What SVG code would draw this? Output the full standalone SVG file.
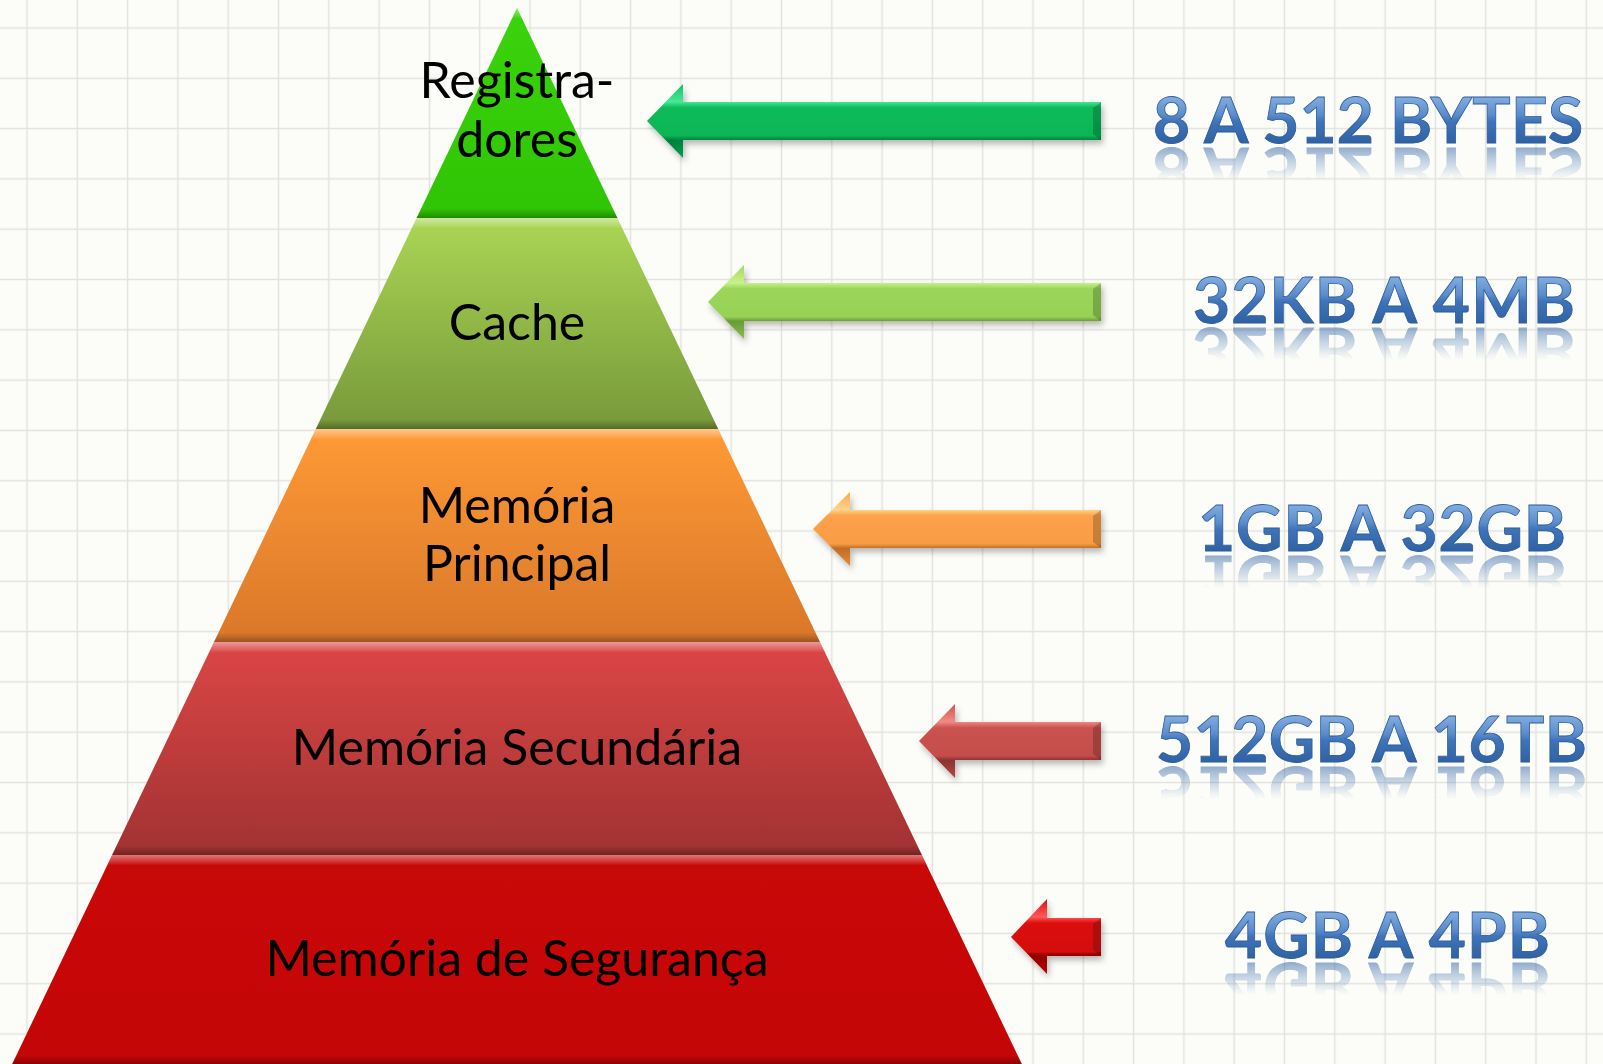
<svg xmlns="http://www.w3.org/2000/svg" xmlns:xlink="http://www.w3.org/1999/xlink" width="1603" height="1064" viewBox="0 0 1603 1064">
<style>
.lvl{font-family:Lato,"Open Sans","Liberation Sans",sans-serif;font-size:50px;fill:#000;text-anchor:middle}
.size{font-family:Lato,"Open Sans","Liberation Sans",sans-serif;font-weight:700;font-size:64px;fill:url(#blueG);stroke:#2d5d9a;stroke-width:0.8}
.bevel{fill:url(#bevelG)}
</style>
<defs>
<pattern id="grid" x="1.85" y="2.85" width="50.3" height="50.3" patternUnits="userSpaceOnUse">
<path d="M25.15 0V50.3M0 25.15H50.3" stroke="#e2e2de" stroke-width="1.5" fill="none"/>
</pattern>
<linearGradient id="g1" x1="0" y1="0" x2="0" y2="1"><stop offset="0" stop-color="#3ad40c"/><stop offset="1" stop-color="#2fc404"/></linearGradient>
<linearGradient id="g2" x1="0" y1="0" x2="0" y2="1"><stop offset="0" stop-color="#aad654"/><stop offset="1" stop-color="#77983a"/></linearGradient>
<linearGradient id="g3" x1="0" y1="0" x2="0" y2="1"><stop offset="0" stop-color="#ff9a35"/><stop offset="1" stop-color="#d9772a"/></linearGradient>
<linearGradient id="g4" x1="0" y1="0" x2="0" y2="1"><stop offset="0" stop-color="#dc4646"/><stop offset="1" stop-color="#a13232"/></linearGradient>
<linearGradient id="g5" x1="0" y1="0" x2="0" y2="1"><stop offset="0" stop-color="#c90808"/><stop offset="1" stop-color="#c50606"/></linearGradient>
<linearGradient id="bevelG" x1="0" y1="0" x2="0" y2="1">
<stop offset="0" stop-color="#fff" stop-opacity="0.45"/>
<stop offset="0.035" stop-color="#fff" stop-opacity="0.15"/>
<stop offset="0.05" stop-color="#fff" stop-opacity="0"/>
<stop offset="0.955" stop-color="#000" stop-opacity="0"/>
<stop offset="0.975" stop-color="#000" stop-opacity="0.12"/>
<stop offset="1" stop-color="#000" stop-opacity="0.3"/>
</linearGradient>
<linearGradient id="blueG" gradientUnits="userSpaceOnUse" x1="0" y1="-48" x2="0" y2="0">
<stop offset="0" stop-color="#86b0e2"/><stop offset="0.42" stop-color="#5a8bcb"/><stop offset="0.55" stop-color="#3f74b9"/><stop offset="1" stop-color="#2f62a4"/>
</linearGradient>
<linearGradient id="reflG" gradientUnits="userSpaceOnUse" x1="0" y1="0" x2="0" y2="-32">
<stop offset="0" stop-color="#fff" stop-opacity="0.5"/><stop offset="1" stop-color="#fff" stop-opacity="0"/>
</linearGradient>
<mask id="reflMask" maskUnits="userSpaceOnUse" x="0" y="-120" width="1603" height="240">
<rect x="1000" y="-60" width="603" height="70" fill="url(#reflG)"/>
</mask>
<linearGradient id="a1" x1="0" y1="0" x2="0" y2="1"><stop offset="0" stop-color="#10c060"/><stop offset="0.24" stop-color="#48e896"/><stop offset="0.32" stop-color="#0abb5a"/><stop offset="0.7" stop-color="#07b555"/><stop offset="0.76" stop-color="#05803e"/><stop offset="1" stop-color="#06a04c"/></linearGradient>
<linearGradient id="a2" x1="0" y1="0" x2="0" y2="1"><stop offset="0" stop-color="#9fd85e"/><stop offset="0.24" stop-color="#c9f288"/><stop offset="0.32" stop-color="#9bd65a"/><stop offset="0.7" stop-color="#96d256"/><stop offset="0.76" stop-color="#6a9a38"/><stop offset="1" stop-color="#88c04c"/></linearGradient>
<linearGradient id="a3" x1="0" y1="0" x2="0" y2="1"><stop offset="0" stop-color="#fda44e"/><stop offset="0.24" stop-color="#ffd48a"/><stop offset="0.32" stop-color="#fca24a"/><stop offset="0.7" stop-color="#f99c44"/><stop offset="0.76" stop-color="#c06c24"/><stop offset="1" stop-color="#e88a38"/></linearGradient>
<linearGradient id="a4" x1="0" y1="0" x2="0" y2="1"><stop offset="0" stop-color="#cc5450"/><stop offset="0.24" stop-color="#f08a86"/><stop offset="0.32" stop-color="#cb524f"/><stop offset="0.7" stop-color="#c44e4b"/><stop offset="0.76" stop-color="#8a3230"/><stop offset="1" stop-color="#b44644"/></linearGradient>
<linearGradient id="a5" x1="0" y1="0" x2="0" y2="1"><stop offset="0" stop-color="#e01010"/><stop offset="0.24" stop-color="#ff5a5a"/><stop offset="0.32" stop-color="#dc0c0c"/><stop offset="0.7" stop-color="#d40a0a"/><stop offset="0.76" stop-color="#8e0000"/><stop offset="1" stop-color="#c00606"/></linearGradient>
<filter id="shadow" x="-10%" y="-30%" width="120%" height="170%">
<feDropShadow dx="2" dy="4" stdDeviation="3" flood-color="#000" flood-opacity="0.28"/>
</filter>
</defs>

<rect width="1603" height="1064" fill="#fcfcf8"/>
<rect width="1603" height="1064" fill="url(#grid)"/>

<g id="level-registradores">
<polygon points="517,8 617.4,218 416.6,218" fill="url(#g1)"/>
<polygon class="bevel" points="517,8 617.4,218 416.6,218"/>
<text class="lvl" x="517" y="98">Registra-</text>
<text class="lvl" x="517" y="157">dores</text>
</g>
<g id="level-cache">
<polygon points="416.6,218 617.4,218 718.2,429 315.8,429" fill="url(#g2)"/>
<polygon class="bevel" points="416.6,218 617.4,218 718.2,429 315.8,429"/>
<text class="lvl" x="517" y="340">Cache</text>
</g>
<g id="level-principal">
<polygon points="315.8,429 718.2,429 820,642 214,642" fill="url(#g3)"/>
<polygon class="bevel" points="315.8,429 718.2,429 820,642 214,642"/>
<text class="lvl" x="517" y="523">Memória</text>
<text class="lvl" x="517" y="581">Principal</text>
</g>
<g id="level-secundaria">
<polygon points="214,642 820,642 921.9,855 112.1,855" fill="url(#g4)"/>
<polygon class="bevel" points="214,642 820,642 921.9,855 112.1,855"/>
<text class="lvl" x="517" y="765">Memória Secundária</text>
</g>
<g id="level-seguranca">
<polygon points="112.1,855 921.9,855 1021.8,1064 12.2,1064" fill="url(#g5)"/>
<polygon class="bevel" points="112.1,855 921.9,855 1021.8,1064 12.2,1064"/>
<text class="lvl" x="517" y="976">Memória de Segurança</text>
</g>

<g id="connectors" filter="url(#shadow)">
<polygon points="647,121 683,84 683,102 1101,102 1101,140 683,140 683,158" fill="url(#a1)"/>
<polygon points="1093,108 1101,102 1101,140 1093,134" fill="#000" opacity="0.2"/>
<polygon points="708,302 744,265 744,283 1101,283 1101,321 744,321 744,339" fill="url(#a2)"/>
<polygon points="1093,289 1101,283 1101,321 1093,315" fill="#000" opacity="0.2"/>
<polygon points="813,529 850,492 850,510 1101,510 1101,548 850,548 850,566" fill="url(#a3)"/>
<polygon points="1093,516 1101,510 1101,548 1093,542" fill="#000" opacity="0.2"/>
<polygon points="919,741 955,704 955,722 1101,722 1101,760 955,760 955,778" fill="url(#a4)"/>
<polygon points="1093,728 1101,722 1101,760 1093,754" fill="#000" opacity="0.2"/>
<polygon points="1011,937 1047,899 1047,918 1101,918 1101,956 1047,956 1047,974" fill="url(#a5)"/>
<polygon points="1093,924 1101,918 1101,956 1093,950" fill="#000" opacity="0.2"/>
</g>

<g id="size-registradores" transform="translate(0,143)">
<text id="s1" class="size" x="1153" y="0" textLength="430">8 A 512 BYTES</text>
<use xlink:href="#s1" href="#s1" transform="translate(0,5) scale(1,-1)" mask="url(#reflMask)"/>
</g>
<g id="size-cache" transform="translate(0,323)">
<text id="s2" class="size" x="1193" y="0" textLength="382">32KB A 4MB</text>
<use xlink:href="#s2" href="#s2" transform="translate(0,5) scale(1,-1)" mask="url(#reflMask)"/>
</g>
<g id="size-principal" transform="translate(0,551)">
<text id="s3" class="size" x="1198" y="0" textLength="368">1GB A 32GB</text>
<use xlink:href="#s3" href="#s3" transform="translate(0,5) scale(1,-1)" mask="url(#reflMask)"/>
</g>
<g id="size-secundaria" transform="translate(0,762)">
<text id="s4" class="size" x="1156" y="0" textLength="431">512GB A 16TB</text>
<use xlink:href="#s4" href="#s4" transform="translate(0,5) scale(1,-1)" mask="url(#reflMask)"/>
</g>
<g id="size-seguranca" transform="translate(0,958)">
<text id="s5" class="size" x="1225" y="0" textLength="325">4GB A 4PB</text>
<use xlink:href="#s5" href="#s5" transform="translate(0,5) scale(1,-1)" mask="url(#reflMask)"/>
</g>
</svg>
